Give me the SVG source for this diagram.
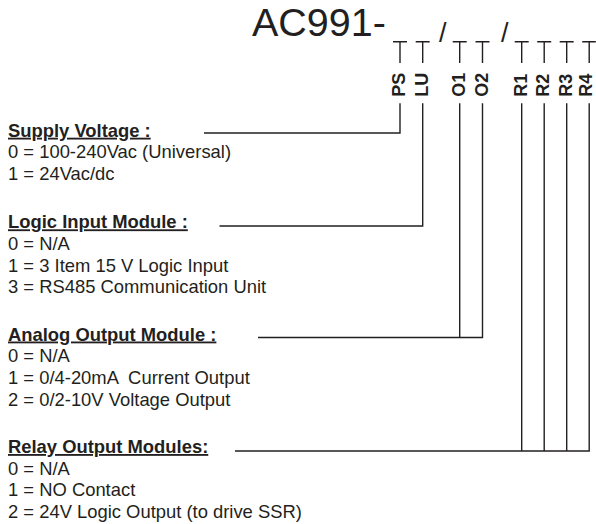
<svg xmlns="http://www.w3.org/2000/svg" width="596" height="524" viewBox="0 0 596 524">
<style>
text{font-family:"Liberation Sans",Arial,sans-serif;fill:#231f20;white-space:pre}
.t{font-size:18.4px}
.h{font-size:18.4px;font-weight:bold;text-decoration:underline}
.lbl{font-size:18px;font-weight:bold}
.ln{stroke:#231f20;stroke-width:1.4;fill:none}
</style>
<rect width="596" height="524" fill="#fff"/>
<g id="title">
<text x="252" y="36" font-size="39.5">AC991-</text>
<text x="439" y="41.5" font-size="27">/</text>
<text x="501" y="41.5" font-size="27">/</text>
</g>
<g id="code-slots" class="ln">
<path d="M393 41.7H407M400 41.7V63"/>
<path d="M415.7 41.7H429.7M422.7 41.7V63"/>
<path d="M452.7 41.7H466.7M459.7 41.7V63"/>
<path d="M475.5 41.7H489.5M482.5 41.7V63"/>
<path d="M514.7 41.7H528.7M521.7 41.7V63"/>
<path d="M537.2 41.7H551.2M544.2 41.7V63"/>
<path d="M559.7 41.7H573.7M566.7 41.7V63"/>
<path d="M582.2 41.7H595.8M589.2 41.7V63"/>
</g>
<g id="slot-labels" class="lbl">
<text transform="translate(405,96.7) rotate(-90)">PS</text>
<text transform="translate(427.7,96.7) rotate(-90)">LU</text>
<text transform="translate(464.7,96.7) rotate(-90)">O1</text>
<text transform="translate(487.5,96.7) rotate(-90)">O2</text>
<text transform="translate(526.7,96.7) rotate(-90)">R1</text>
<text transform="translate(549.2,96.7) rotate(-90)">R2</text>
<text transform="translate(571.7,96.7) rotate(-90)">R3</text>
<text transform="translate(592.2,96.7) rotate(-90)">R4</text>
</g>
<g id="connectors" class="ln">
<path d="M204 133H400V103.3"/>
<path d="M219.5 226H422.7V103.3"/>
<path d="M258 337.5H482.5V103.3M459.7 337.5V103.3"/>
<path d="M235 451H589.2V103.3M521.7 451V103.3M544.2 451V103.3M566.7 451V103.3"/>
</g>
<g id="supply">
<text class="h" x="8" y="136.7">Supply Voltage :</text>
<text class="t" x="8" y="158.3">0 = 100-240Vac (Universal)</text>
<text class="t" x="8" y="180">1 = 24Vac/dc</text>
</g>
<g id="logic">
<text class="h" x="8" y="228.3">Logic Input Module :</text>
<text class="t" x="8" y="250">0 = N/A</text>
<text class="t" x="8" y="271.7">1 = 3 Item 15 V Logic Input</text>
<text class="t" x="8" y="293.4">3 = RS485 Communication Unit</text>
</g>
<g id="analog">
<text class="h" x="8" y="340.5">Analog Output Module :</text>
<text class="t" x="8" y="362.2">0 = N/A</text>
<text class="t" x="8" y="384">1 = 0/4-20mA  Current Output</text>
<text class="t" x="8" y="405.7">2 = 0/2-10V Voltage Output</text>
</g>
<g id="relay">
<text class="h" x="8" y="453">Relay Output Modules:</text>
<text class="t" x="8" y="474.7">0 = N/A</text>
<text class="t" x="8" y="496.4">1 = NO Contact</text>
<text class="t" x="8" y="518.2">2 = 24V Logic Output (to drive SSR)</text>
</g>
</svg>
